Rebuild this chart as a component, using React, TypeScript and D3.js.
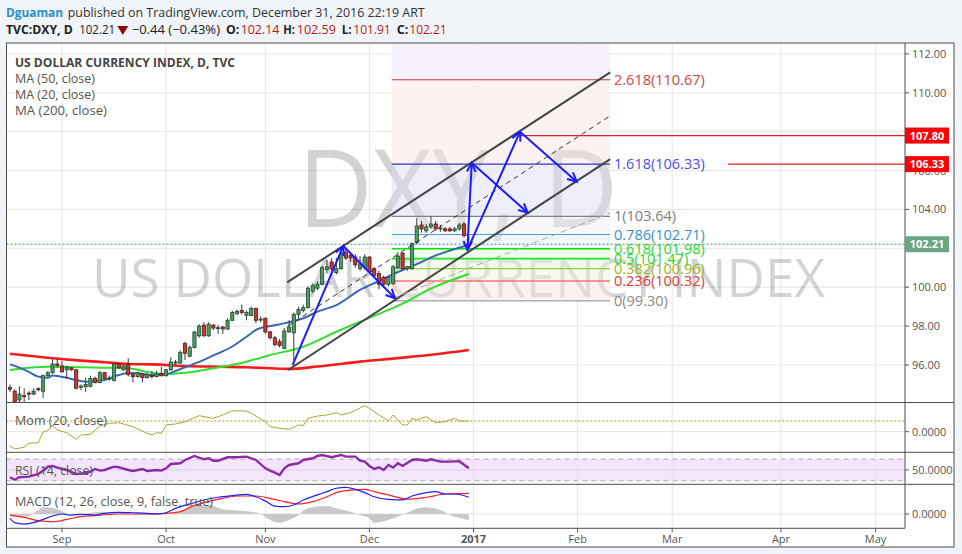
import React from 'react';
import * as d3 from 'd3';

// ---------- DATA ----------
const opens = [94.85,94.65,94.20,94.42,94.55,94.50,94.78,94.65,95.45,95.60,96.05,95.95,95.75,95.85,95.75,94.85,94.88,94.90,95.30,95.10,95.60,95.28,95.20,96.05,95.75,96.05,95.50,95.40,95.55,95.35,95.45,95.40,95.55,95.45,95.75,96.10,96.10,97.10,96.45,96.90,97.50,98.05,97.50,98.05,97.90,97.95,97.85,98.30,98.65,98.80,98.55,98.55,98.90,98.33,98.40,97.70,97.40,97.20,96.85,97.70,97.65,98.60,98.80,98.95,99.80,99.95,100.15,100.90,101.30,100.75,100.95,101.80,101.65,101.55,100.95,101.00,101.55,100.95,100.70,100.50,100.15,100.20,101.00,101.75,100.95,100.95,102.30,103.20,102.90,103.10,103.25,103.00,103.00,103.00,102.90,103.00,103.25,102.14];
const highs = [95.00,94.75,94.90,94.80,94.65,94.80,94.85,95.50,95.70,96.30,96.30,96.20,95.95,95.90,95.80,95.00,95.35,95.45,95.40,95.70,95.65,95.45,96.10,96.10,96.00,96.35,95.60,95.65,95.60,95.60,95.70,95.70,95.90,95.80,96.40,96.25,96.75,97.20,97.00,97.75,98.10,98.20,98.20,98.10,98.05,98.00,98.40,98.80,98.85,99.10,98.80,99.00,98.95,98.50,98.45,97.75,97.50,97.35,97.90,98.30,98.70,99.00,99.10,100.05,100.20,100.30,101.10,101.40,101.50,101.50,101.90,101.95,101.80,101.70,101.60,101.70,101.60,101.05,100.85,100.60,100.55,101.15,101.80,101.80,101.10,102.30,103.55,103.40,103.25,103.64,103.40,103.20,103.10,103.10,103.10,103.30,103.35,102.59];
const lows = [94.60,93.90,94.10,94.10,94.20,94.45,94.65,94.30,95.40,95.55,95.85,95.60,95.30,95.70,94.75,94.70,94.60,94.85,95.05,95.05,95.25,95.20,95.15,95.80,95.70,95.40,95.10,95.35,95.10,95.30,95.30,95.35,95.40,95.40,95.70,96.00,96.05,96.25,96.40,96.85,97.40,97.45,97.45,97.80,97.60,97.60,97.80,98.25,98.55,98.60,98.30,98.50,98.15,98.20,97.60,97.30,96.95,96.90,96.80,97.65,95.95,98.40,98.70,98.90,99.70,99.85,100.10,100.70,100.85,100.65,100.90,101.40,101.30,101.00,100.85,100.90,100.75,100.55,99.90,100.05,100.05,100.10,100.95,100.90,100.85,100.90,102.20,102.80,102.80,103.00,102.90,102.85,102.85,102.85,102.85,102.90,102.55,101.91];
const closes = [94.75,94.10,94.50,94.38,94.50,94.65,94.72,95.45,95.60,96.05,95.98,95.65,95.90,95.75,94.80,94.92,95.00,95.30,95.10,95.60,95.30,95.32,96.05,95.85,95.95,95.50,95.40,95.60,95.35,95.50,95.44,95.55,95.45,95.75,96.15,96.15,96.65,96.60,96.90,97.70,98.00,97.50,98.10,97.90,97.92,97.85,98.30,98.70,98.75,98.70,98.70,98.90,98.30,98.36,97.70,97.40,97.05,97.00,97.75,97.95,98.60,98.85,98.95,99.95,100.10,100.15,101.00,101.05,100.95,100.95,101.75,101.50,101.50,101.15,101.20,101.55,100.80,100.60,100.15,100.15,100.50,101.05,101.60,100.95,101.05,102.25,103.15,103.00,103.10,103.25,103.00,103.05,102.90,102.90,103.00,103.20,102.65,102.21];

const ma50Idx = [0, 8, 20, 25, 30, 33, 37, 43, 50, 55, 62, 69, 74, 80, 83, 89, 97];
const ma50Val = [95.74, 95.91, 95.86, 95.83, 95.60, 95.53, 95.60, 95.83, 96.17, 96.51, 96.94, 97.71, 98.23, 98.83, 99.16, 99.93, 100.68];
const ma20Idx = [0, 2, 4, 6, 8, 9, 13, 16, 20, 23, 25, 27, 30, 33, 35, 37, 41, 44, 47, 50, 52, 55, 58, 62, 65, 69, 74, 78, 82, 86, 90, 94, 97];
const ma20Val = [96.03, 95.86, 95.64, 95.40, 95.34, 95.46, 95.28, 95.14, 95.23, 95.48, 95.59, 95.57, 95.48, 95.52, 95.69, 95.88, 96.26, 96.60, 96.95, 97.45, 97.80, 98.00, 98.14, 98.40, 98.74, 99.08, 99.86, 100.32, 100.78, 101.19, 101.63, 101.96, 102.17];
const ma200Idx = [0, 6, 13, 20, 25, 30, 37, 44, 50, 55, 59, 65, 74, 82, 90, 97];
const ma200Val = [96.58, 96.42, 96.26, 96.14, 96.05, 96.03, 95.95, 95.91, 95.88, 95.83, 95.80, 95.92, 96.17, 96.35, 96.55, 96.77];

const momIdx = [0,1,3,4,6,7,8,9,10,12,14,15,17,18,19,21,23,26,29,30,31,32,33,35,37,40,43,45,47,50,51,54,55,57,59,61,62,63,65,67,69,70,72,75,76,78,80,81,83,84,85,86,88,90,92,94,95,97];
const momVal = [-1.74,-2.11,-1.90,-1.42,-1.34,-0.04,0.12,0.82,0.21,-0.12,-0.93,-0.40,-0.32,0.21,0.70,1.02,1.10,0.61,-0.20,-0.40,-0.12,-0.20,0.82,0.94,1.22,1.95,1.63,2.04,2.56,2.52,2.24,1.22,0.61,0.41,0.29,0.82,0.75,1.63,1.91,2.04,2.32,2.04,2.32,3.17,2.85,2.04,1.34,2.04,0.82,0.82,1.63,1.43,1.83,1.10,1.22,1.63,1.30,1.30];

const rsiIdx = [0,1,2,4,6,7,8,9,10,12,14,16,17,18,19,20,22,23,25,26,28,29,31,32,33,34,36,37,39,41,42,43,44,46,48,50,52,54,55,56,57,58,59,61,62,64,65,66,68,70,71,73,74,75,76,77,78,79,80,81,82,83,85,86,88,89,91,93,95,97];
const rsiVal = [36.5,32,36.5,37.7,42.6,48.7,56,57.4,54.3,50,42.6,43.9,46.9,51.8,48.8,50,56.1,55,50,48.2,51.8,48.2,50,48.8,53.1,61,62.3,68.4,75.8,69.7,71.5,67.1,67.1,73.4,73.4,74.5,68.4,53.1,48.8,45.1,40.8,53.1,59.2,62.3,68.4,71.5,75.8,77.6,73.4,77.6,74.5,74.5,67.1,65.3,57.4,51.8,55,50,59.2,54.3,62.3,57.4,68.4,69.7,67.1,69.7,65.3,65.3,66.2,53.1];

const macdIdx = [0,1,3,5,7,9,11,13,15,18,20,23,26,29,31,33,35,38,41,44,47,50,52,54,56,58,60,62,65,67,69,71,73,75,77,80,83,85,88,90,92,94,97];
const macdVal = [-0.24,-0.48,-0.56,-0.48,-0.30,-0.11,0,-0.06,-0.02,-0.06,0.04,0.09,0.07,0.04,0,0.07,0.31,0.56,0.78,0.93,1.02,1.09,0.96,0.72,0.44,0.41,0.50,0.78,1.06,1.24,1.43,1.48,1.37,1.19,0.96,0.81,0.78,1.00,1.19,1.24,1.11,1.11,0.93];
const signalIdx = [0,3,6,9,12,15,19,23,29,33,36,38,41,45,48,52,55,58,61,64,67,69,72,75,77,80,84,88,92,97];
const signalVal = [-0.06,-0.19,-0.37,-0.43,-0.30,-0.15,-0.07,0,0,0.04,0.13,0.37,0.63,0.87,1.0,1.0,0.87,0.69,0.56,0.69,0.96,1.19,1.33,1.37,1.24,1.06,0.83,0.93,1.11,1.15];
const histIdx = [0,2,4,6,7,10,12,14,17,19,22,26,30,33,36,38,42,45,48,51,53,55,57,59,61,62,64,67,69,72,74,76,77,80,82,84,86,88,91,93,97];
const histVal = [-0.06,-0.19,-0.11,0.22,0.37,0.26,0.04,-0.06,0.07,0.13,0.04,0,-0.04,0,0.13,0.37,0.5,0.26,0.19,0.13,0,-0.33,-0.48,-0.33,-0.06,0.19,0.37,0.44,0.31,0.13,-0.06,-0.24,-0.48,-0.33,-0.15,0.07,0.31,0.37,0.22,-0.06,-0.33];

const priceTicks = [96, 98, 100, 102, 104, 106, 108, 110, 112];
const monthLabels = ['Sep', 'Oct', 'Nov', 'Dec', '2017', 'Feb', 'Mar', 'Apr', 'May'];

const fibRatios = ['0', '0.236', '0.382', '0.5', '0.618', '0.786', '1', '1.618', '2.618'];
const fibPrices = [99.30, 100.32, 100.96, 101.47, 101.98, 102.71, 103.64, 106.33, 110.67];
const fibLineColors = ['#9e9e9e', '#ff3b3b', '#9acd32', '#22e622', '#00e600', '#4aa0d8', '#808080', '#3535b8', '#b84040'];
const fibTextColors = ['#8a8a8a', '#e03a3a', '#9ab520', '#2bd82b', '#2bd82b', '#3a8fd0', '#808080', '#4f4fdf', '#d84545'];
const fibBandColors = ['#fcefef', '#f5f9ea', '#eefbec', '#ecfbec', '#ecf5fb', '#f6f6f6', '#ebebfa', '#fcf0f0', '#f5effc'];
const fibStartIdx = 80.7, fibEndIdx = 126.85;

const channelUpper = [[58.6, 100.25], [126.9, 111.05]];
const channelLower = [[58.8, 95.74], [126.9, 106.59]];
const grayTrend = [[81.0, 99.44], [126.9, 103.82]];
const arrows: { a: number[]; b: number[]; both?: boolean }[] = [
  { a: [59.77, 96.0], b: [70.47, 102.12] },
  { a: [70.47, 102.12], b: [81.4, 99.43] },
  { a: [96.69, 101.91], b: [97.62, 106.40], both: true },
  { a: [97.62, 106.40], b: [109.46, 103.83] },
  { a: [96.69, 101.91], b: [107.83, 108.0] },
  { a: [107.83, 108.0], b: [119.82, 105.43] },
];
const level1780 = { price: 107.80, fromIdx: 107.8 };
const level1633 = { price: 106.33, fromIdx: 151.8 };
const lastPrice = 102.21;

// ---------- LAYOUT ----------
const FONT = "'Open Sans', 'Noto Sans', sans-serif";
const L = 6.5, R = 905, RB = 954, T = 43, MAIN_B = 402.5, MOM_B = 452.3, RSI_B = 484.3, MACD_B = 528.3, B = 547;

function tradingDays() {
  const out: Date[] = [];
  const d = new Date(2016, 7, 17);
  const end = new Date(2017, 4, 31);
  while (d <= end) {
    const wd = d.getDay();
    if (wd !== 0 && wd !== 6) out.push(new Date(d));
    d.setDate(d.getDate() + 1);
  }
  return out;
}

function pts(idx: number[], val: number[]): [number, number][] {
  return idx.map((v, i) => [v, val[i]]);
}

export default function App() {
  const days = tradingDays();
  const monthIdx: number[] = [];
  for (let i = 1; i < days.length; i++) {
    if (days[i].getMonth() !== days[i - 1].getMonth()) monthIdx.push(i);
  }

  const xs = d3.scaleLinear().domain([0, 183]).range([9.97, 875.6]);
  const ys = d3.scaleLinear().domain([100, 112]).range([287.2, 53.9]);
  const ym = d3.scaleLinear().domain([-2.5, 3.5]).range([452.2, 403.0]);
  const yr = d3.scaleLinear().domain([26, 84]).range([483.0, 451.5]);
  const yd = d3.scaleLinear().domain([-0.8, 1.65]).range([528.4, 484.3]);

  const lineP = (s: any, curve: any = d3.curveMonotoneX) =>
    d3.line<[number, number]>().x(d => xs(d[0])).y(d => s(d[1])).curve(curve);

  const ma20 = lineP(ys)(pts(ma20Idx, ma20Val))!;
  const ma50 = lineP(ys)(pts(ma50Idx, ma50Val))!;
  const ma200 = lineP(ys)(pts(ma200Idx, ma200Val))!;
  const mom = lineP(ym, d3.curveLinear)(pts(momIdx, momVal))!;
  const rsi = lineP(yr, d3.curveLinear)(pts(rsiIdx, rsiVal))!;
  const macd = lineP(yd)(pts(macdIdx, macdVal))!;
  const sig = lineP(yd)(pts(signalIdx, signalVal))!;
  const hist = d3.area<[number, number]>().x(d => xs(d[0])).y0(yd(0)).y1(d => yd(d[1])).curve(d3.curveMonotoneX)(pts(histIdx, histVal))!;

  const fx1 = xs(fibStartIdx), fx2 = xs(fibEndIdx);

  const midA = [(channelUpper[0][0] + channelLower[0][0]) / 2, (channelUpper[0][1] + channelLower[0][1]) / 2];
  const midB = [(channelUpper[1][0] + channelLower[1][0]) / 2, (channelUpper[1][1] + channelLower[1][1]) / 2];

  const arrowHead = (x1: number, y1: number, x2: number, y2: number, key: string) => {
    const ang = Math.atan2(y2 - y1, x2 - x1);
    const len = 10, spread = 0.45;
    const p1 = [x2 - len * Math.cos(ang - spread), y2 - len * Math.sin(ang - spread)];
    const p2 = [x2 - len * Math.cos(ang + spread), y2 - len * Math.sin(ang + spread)];
    return <path key={key} d={`M${p1[0]},${p1[1]}L${x2},${y2}L${p2[0]},${p2[1]}`} fill="none" stroke="#1c1cff" strokeWidth={2} />;
  };

  const axisText = { fontFamily: FONT, fontSize: 11, fill: '#555' };

  return (
    <svg width={962} height={554} style={{ position: 'absolute', left: 0, top: 0, display: 'block' }} xmlns="http://www.w3.org/2000/svg">
      <defs>
        <clipPath id="cMain"><rect x={L} y={T} width={R - L} height={MAIN_B - T} /></clipPath>
        <clipPath id="cMom"><rect x={L} y={MAIN_B} width={R - L} height={MOM_B - MAIN_B} /></clipPath>
        <clipPath id="cRsi"><rect x={L} y={MOM_B} width={R - L} height={RSI_B - MOM_B} /></clipPath>
        <clipPath id="cMacd"><rect x={L} y={RSI_B} width={R - L} height={MACD_B - RSI_B} /></clipPath>
      </defs>
      <rect x={0} y={0} width={962} height={554} fill="#f0f3f7" />
      <rect x={L} y={T} width={RB - L} height={B - T} fill="#ffffff" />

      {/* header */}
      <text x={6} y={16.7} fontFamily={FONT} fontSize={12.5} fontWeight="bold" fill="#2a8fcd" textLength={57} lengthAdjust="spacingAndGlyphs">Dguaman</text>
      <text x={67.7} y={16.7} fontFamily={FONT} fontSize={12.5} fill="#333" textLength={357} lengthAdjust="spacingAndGlyphs">published on TradingView.com, December 31, 2016 22:19 ART</text>
      <text x={6} y={34.3} fontFamily={FONT} fontSize={12.5} fontWeight="bold" fill="#222" textLength={66.7} lengthAdjust="spacingAndGlyphs">TVC:DXY, D</text>
      <text x={79.3} y={34.3} fontFamily={FONT} fontSize={12.5} fill="#222" textLength={35.7} lengthAdjust="spacingAndGlyphs">102.21</text>
      <path d="M117.3,26 L128.3,26 L122.8,35 Z" fill="#8b0a0a" />
      <text x={131.7} y={34.3} fontFamily={FONT} fontSize={12.5} fill="#222" textLength={88.3} lengthAdjust="spacingAndGlyphs">−0.44 (−0.43%)</text>
      {[
        ['O:', 226, 13.3, '102.14', 240.7, 38.6],
        ['H:', 283.3, 11.7, '102.59', 296.7, 39.3],
        ['L:', 341.7, 10, '101.91', 353.3, 37.4],
        ['C:', 396.7, 11.6, '102.21', 409.3, 37.4],
      ].map((s: any) => (
        <g key={s[0]}>
          <text x={s[1]} y={34.3} fontFamily={FONT} fontSize={12.5} fontWeight="bold" fill="#222" textLength={s[2]} lengthAdjust="spacingAndGlyphs">{s[0]}</text>
          <text x={s[4]} y={34.3} fontFamily={FONT} fontSize={12.5} fill="#b31b1b" textLength={s[5]} lengthAdjust="spacingAndGlyphs">{s[3]}</text>
        </g>
      ))}

      {/* grid */}
      {monthIdx.map((mi, i) => (
        <line key={'vg' + i} x1={xs(mi)} x2={xs(mi)} y1={T} y2={MACD_B} stroke="#e6e6e6" strokeWidth={1} />
      ))}
      {priceTicks.map(p => (
        <line key={'hg' + p} x1={L} x2={R} y1={ys(p)} y2={ys(p)} stroke="#e6e6e6" strokeWidth={1} />
      ))}
      <line x1={L} x2={R} y1={ym(0)} y2={ym(0)} stroke="#e3e3e3" />
      <line x1={L} x2={R} y1={yd(0)} y2={yd(0)} stroke="#e3e3e3" />

      {/* watermark */}
      <text x={298} y={227} fontFamily={FONT} fontSize={108} fill="rgba(0,0,0,0.1)" textLength={320} lengthAdjust="spacingAndGlyphs">DXY, D</text>
      <text x={92} y={297} fontFamily={FONT} fontSize={53} fill="rgba(0,0,0,0.1)" textLength={733} lengthAdjust="spacingAndGlyphs">US DOLLAR CURRENCY INDEX</text>

      {/* main pane */}
      <g clipPath="url(#cMain)">
        {fibBandColors.map((c, i) => {
          const top = i < fibPrices.length - 1 ? ys(fibPrices[i + 1]) : T;
          const bot = ys(fibPrices[i]);
          return <rect key={'fb' + i} x={fx1} y={top} width={fx2 - fx1} height={bot - top} fill={c} opacity={0.85} />;
        })}
        <text x={298} y={227} fontFamily={FONT} fontSize={108} fill="rgba(0,0,0,0.08)" textLength={320} lengthAdjust="spacingAndGlyphs">DXY, D</text>
        <text x={92} y={297} fontFamily={FONT} fontSize={53} fill="rgba(0,0,0,0.08)" textLength={733} lengthAdjust="spacingAndGlyphs">US DOLLAR CURRENCY INDEX</text>
        {fibPrices.map((p, i) => (
          <line key={'fl' + i} x1={fx1} x2={fx2} y1={ys(p)} y2={ys(p)} stroke={fibLineColors[i]} strokeWidth={i >= 3 && i <= 4 ? 1.6 : 1.2} />
        ))}
        {fibPrices.map((p, i) => (
          <text key={'ft' + i} x={fx2 + 4} y={ys(p) + 5} fontFamily={FONT} fontSize={14.5} fill={fibTextColors[i]}>{`${fibRatios[i]}(${p.toFixed(2)})`}</text>
        ))}
        <line x1={xs(level1780.fromIdx)} x2={R} y1={ys(level1780.price)} y2={ys(level1780.price)} stroke="#e52020" strokeWidth={1.2} />
        <line x1={xs(level1633.fromIdx)} x2={R} y1={ys(level1633.price)} y2={ys(level1633.price)} stroke="#e52020" strokeWidth={1.2} />
        <line x1={L} x2={R} y1={ys(lastPrice)} y2={ys(lastPrice)} stroke="#4f8a66" strokeWidth={1} strokeDasharray="2,2" />

        <path d={ma200} fill="none" stroke="#f21c1c" strokeWidth={2.6} />
        <path d={ma50} fill="none" stroke="#2fe02f" strokeWidth={2} />
        <path d={ma20} fill="none" stroke="#3c66b4" strokeWidth={2} />

        {closes.map((c, i) => {
          const o = opens[i], h = highs[i], l = lows[i];
          const up = c >= o;
          const x = xs(i);
          const yTop = ys(Math.max(o, c)), yBot = ys(Math.min(o, c));
          return (
            <g key={'c' + i}>
              <line x1={x} x2={x} y1={ys(h)} y2={ys(l)} stroke="#3a3a3a" strokeWidth={1} />
              <rect x={x - 1.6} y={yTop} width={3.2} height={Math.max(1, yBot - yTop)} fill={up ? '#4e9a68' : '#c23a35'} stroke={up ? '#1f4d2e' : '#5c1714'} strokeWidth={0.8} />
            </g>
          );
        })}

        <line x1={xs(channelUpper[0][0])} y1={ys(channelUpper[0][1])} x2={xs(channelUpper[1][0])} y2={ys(channelUpper[1][1])} stroke="#454545" strokeWidth={2} />
        <line x1={xs(channelLower[0][0])} y1={ys(channelLower[0][1])} x2={xs(channelLower[1][0])} y2={ys(channelLower[1][1])} stroke="#454545" strokeWidth={2} />
        <line x1={xs(midA[0])} y1={ys(midA[1])} x2={xs(midB[0])} y2={ys(midB[1])} stroke="#333" strokeWidth={1} strokeDasharray="5,4" />
        <line x1={xs(grayTrend[0][0])} y1={ys(grayTrend[0][1])} x2={xs(grayTrend[1][0])} y2={ys(grayTrend[1][1])} stroke="#a8a8a8" strokeWidth={1} strokeDasharray="6,4" />

        {arrows.map((a, i) => {
          const x1 = xs(a.a[0]), y1 = ys(a.a[1]), x2 = xs(a.b[0]), y2 = ys(a.b[1]);
          return (
            <g key={'ar' + i}>
              <line x1={x1} y1={y1} x2={x2} y2={y2} stroke="#1c1cff" strokeWidth={2} />
              {arrowHead(x1, y1, x2, y2, 'h' + i)}
              {a.both ? arrowHead(x2, y2, x1, y1, 'hb' + i) : null}
            </g>
          );
        })}
      </g>

      <text x={15} y={66.5} fontFamily={FONT} fontSize={12.5} fontWeight="bold" fill="#444" textLength={220} lengthAdjust="spacingAndGlyphs">US DOLLAR CURRENCY INDEX, D, TVC</text>
      <text x={15} y={82.5} fontFamily={FONT} fontSize={12.5} fill="#555" textLength={80} lengthAdjust="spacingAndGlyphs">MA (50, close)</text>
      <text x={15} y={98.5} fontFamily={FONT} fontSize={12.5} fill="#555" textLength={80} lengthAdjust="spacingAndGlyphs">MA (20, close)</text>
      <text x={15} y={114.5} fontFamily={FONT} fontSize={12.5} fill="#555" textLength={92} lengthAdjust="spacingAndGlyphs">MA (200, close)</text>

      <g clipPath="url(#cMom)">
        <line x1={L} x2={R} y1={ym(momVal[momVal.length - 1])} y2={ym(momVal[momVal.length - 1])} stroke="#9a9a10" strokeWidth={1} strokeDasharray="2,2" />
        <path d={mom} fill="none" stroke="#a6a632" strokeWidth={1} />
      </g>
      <text x={15} y={424.5} fontFamily={FONT} fontSize={12.5} fill="#555" textLength={92} lengthAdjust="spacingAndGlyphs">Mom (20, close)</text>

      <g clipPath="url(#cRsi)">
        <rect x={L} y={yr(70)} width={R - L} height={yr(30) - yr(70)} fill="#f3e5fb" />
        <line x1={L} x2={R} y1={yr(50)} y2={yr(50)} stroke="#ddd0e6" />
        <line x1={L} x2={R} y1={yr(70)} y2={yr(70)} stroke="#b0a8b4" strokeDasharray="5,4" />
        <line x1={L} x2={R} y1={yr(30)} y2={yr(30)} stroke="#b0a8b4" strokeDasharray="5,4" />
        {monthIdx.map((mi, i) => (
          <line key={'vgr' + i} x1={xs(mi)} x2={xs(mi)} y1={MOM_B} y2={RSI_B} stroke="#e6e0ea" strokeWidth={1} />
        ))}
        <path d={rsi} fill="none" stroke="#8e2aa8" strokeWidth={2.4} />
      </g>
      <text x={15} y={474.5} fontFamily={FONT} fontSize={12.5} fill="#555" textLength={78} lengthAdjust="spacingAndGlyphs">RSI (14, close)</text>

      <g clipPath="url(#cMacd)">
        <path d={hist} fill="#c8c8c8" />
        <path d={sig} fill="none" stroke="#ff2020" strokeWidth={1.2} />
        <path d={macd} fill="none" stroke="#2020ff" strokeWidth={1.2} />
      </g>
      <text x={15} y={506} fontFamily={FONT} fontSize={12.5} fill="#555" textLength={198} lengthAdjust="spacingAndGlyphs">MACD (12, 26, close, 9, false, true)</text>

      <rect x={L} y={T} width={RB - L} height={B - T} fill="none" stroke="#4d4d4d" strokeWidth={1} />
      <line x1={R} x2={R} y1={T} y2={MACD_B} stroke="#4d4d4d" />
      {[MAIN_B, MOM_B, RSI_B].map(y => (
        <line key={'sep' + y} x1={L} x2={RB} y1={y} y2={y} stroke="#4d4d4d" />
      ))}
      <line x1={L} x2={R} y1={MACD_B} y2={MACD_B} stroke="#4d4d4d" />

      {priceTicks.map(p => (
        <g key={'pt' + p}>
          <line x1={R} x2={R + 4} y1={ys(p)} y2={ys(p)} stroke="#555" />
          <text x={912} y={ys(p) + 4} {...axisText}>{p.toFixed(2)}</text>
        </g>
      ))}
      {[
        { p: level1780.price, c: '#ff0000' },
        { p: level1633.price, c: '#ff0000' },
        { p: lastPrice, c: '#6aa584' },
      ].map(b => (
        <g key={'bx' + b.p}>
          <rect x={R} y={ys(b.p) - 8} width={44} height={16} fill={b.c} />
          <text x={R + 22} y={ys(b.p) + 4} fontFamily={FONT} fontSize={11} fontWeight="bold" fill="#fff" textAnchor="middle">{b.p.toFixed(2)}</text>
        </g>
      ))}
      <line x1={R} x2={R + 4} y1={ym(0)} y2={ym(0)} stroke="#555" />
      <text x={912} y={ym(0) + 4} {...axisText}>0.0000</text>
      <line x1={R} x2={R + 4} y1={yr(50)} y2={yr(50)} stroke="#555" />
      <text x={912} y={yr(50) + 4} {...axisText}>50.0000</text>
      <line x1={R} x2={R + 4} y1={yd(0)} y2={yd(0)} stroke="#555" />
      <text x={912} y={yd(0) + 4} {...axisText}>0.0000</text>

      {monthIdx.slice(0, monthLabels.length).map((mi, i) => (
        <g key={'tl' + i}>
          <line x1={xs(mi)} x2={xs(mi)} y1={MACD_B} y2={MACD_B + 4} stroke="#555" />
          <text x={xs(mi)} y={543} {...axisText} textAnchor="middle" fontWeight={monthLabels[i] === '2017' ? 'bold' : 'normal'}>{monthLabels[i]}</text>
        </g>
      ))}
    </svg>
  );
}
